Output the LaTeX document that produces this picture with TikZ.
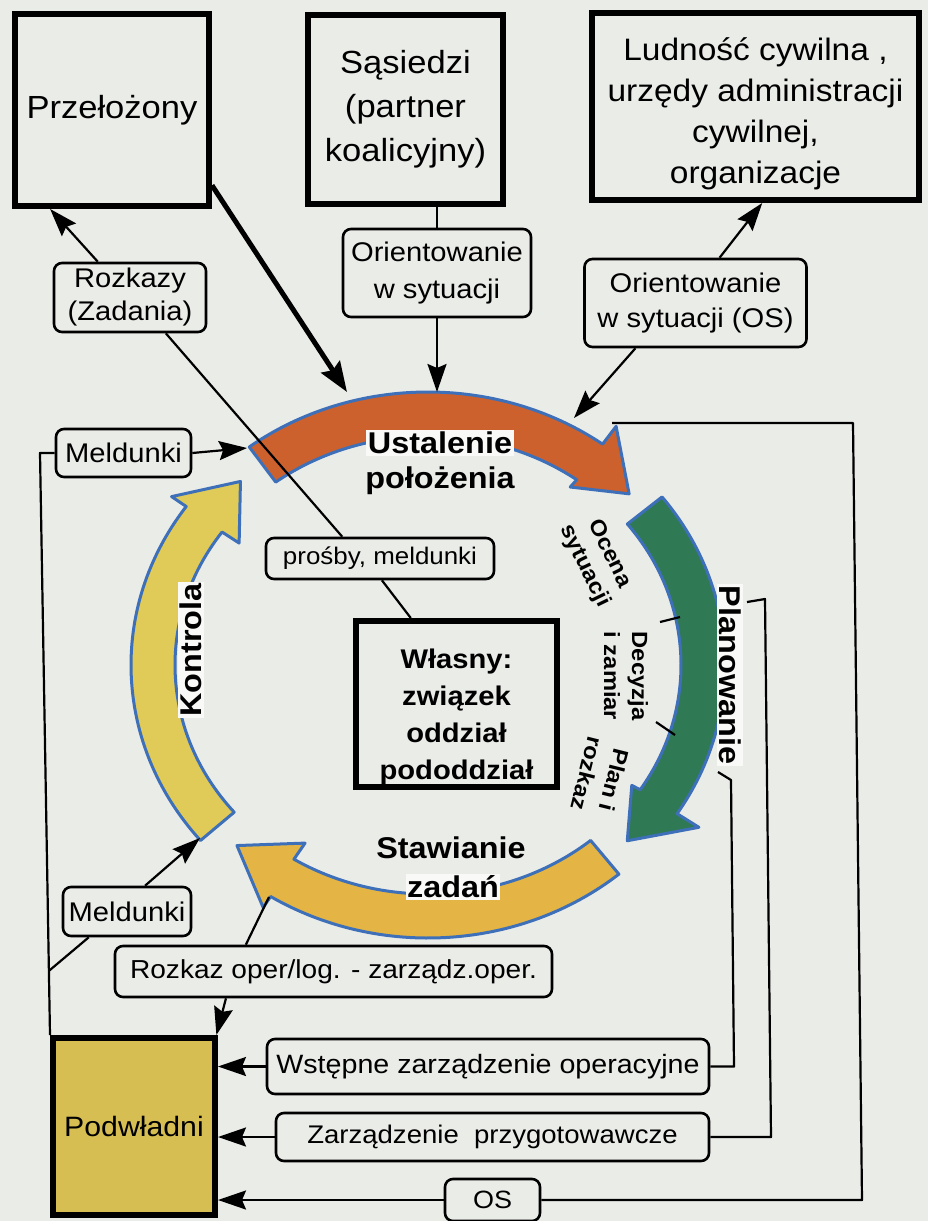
\documentclass[tikz,border=0pt]{standalone}
\usepackage{fontspec}
\setmainfont[FakeStretch=1.08]{Liberation Sans}
\usetikzlibrary{arrows.meta,calc}

\definecolor{paper}{RGB}{234,236,232}
\definecolor{patch}{RGB}{249,249,247}
\definecolor{ringblue}{RGB}{62,112,185}
\definecolor{cOrange}{RGB}{204,97,46}
\definecolor{cGreen}{RGB}{47,122,84}
\definecolor{cKontrola}{RGB}{224,203,88}
\definecolor{cStaw}{RGB}{228,181,68}
\definecolor{cPodw}{RGB}{214,190,82}

\newcommand{\fs}[2]{\fontsize{#1}{#2}\selectfont}

\begin{document}
\begin{tikzpicture}[x=1pt,y=-1pt,
  bigbox/.style={draw, line width=6pt, fill=paper, inner sep=0pt, align=center},
  tag/.style={draw, line width=2.6pt, rounded corners=8pt, fill=paper, inner sep=0pt, align=center},
  conn/.style={line width=2.2pt, line join=round},
  arr/.style={conn, -{Stealth[length=28pt,width=19pt,inset=4pt]}},
  heavyarr/.style={line width=5pt, -{Stealth[length=30pt,width=22pt,inset=4pt]}},
  ringpart/.style={draw=ringblue, line width=3pt, line join=round},
  arclab/.style={font=\bfseries\fs{30}{36}, inner sep=1.5pt},
  sublab/.style={font=\bfseries\fs{22}{28}, inner sep=0pt, align=center},
]
\useasboundingbox (0,0) rectangle (928,1221);
\fill[paper] (0,0) rectangle (928,1221);

% ---- the four-phase ring ----
\begin{scope}[shift={(428,665)}, yscale=-1]
  % Ustalenie polozenia
  \path[ringpart, fill=cOrange]
    (127:297 and 273) arc[start angle=127, end angle=54, x radius=297, y radius=273]
    -- (54:320 and 295) -- (43:275 and 251) -- (54:242 and 220) -- (54:253 and 229)
    arc[start angle=54, end angle=127, x radius=253, y radius=229] -- cycle;
  % Planowanie
  \path[ringpart, fill=cGreen]
    (38:297 and 273) arc[start angle=38, end angle=-33, x radius=297, y radius=273]
    -- (-33:323 and 298) -- (-44:277 and 253) -- (-33:243 and 221) -- (-33:253 and 229)
    arc[start angle=-33, end angle=38, x radius=253, y radius=229] -- cycle;
  % Stawianie zadan
  \path[ringpart, fill=cStaw]
    (-50:297 and 273) arc[start angle=-50, end angle=-122, x radius=297, y radius=273]
    -- (-122:311 and 286) -- (-134:275 and 251) -- (-122:232 and 210) -- (-122:253 and 229)
    arc[start angle=-122, end angle=-50, x radius=253, y radius=229] -- cycle;
  % Kontrola
  \path[ringpart, fill=cKontrola]
    (-140:297 and 273) arc[start angle=-140, end angle=-215.5, x radius=297, y radius=273]
    -- (-215.5:315 and 290) -- (-227:275 and 251) -- (-215.5:232 and 210) -- (-215.5:253 and 229)
    arc[start angle=-215.5, end angle=-140, x radius=253, y radius=229] -- cycle;
\end{scope}

% ---- phase labels ----
\node[arclab, fill=patch] (ust) at (440,443) {Ustalenie};
\node[arclab] (pol) at (440,481) {położenia};
\node[arclab] (staw) at (451,848) {Stawianie};
\node[arclab, fill=patch] (zad) at (453,887) {zadań};
\node[arclab, fill=patch, rotate=90] (kon) at (191,650) {Kontrola};
\node[arclab, fill=patch, rotate=-90] (plan) at (730,675) {Planowanie};
\node[sublab, rotate=-64] (ocena) at (597,560) {Ocena\\sytuacji};
\node[sublab, rotate=-90] (decyzja) at (626,676) {Decyzja\\i zamiar};
\node[sublab, rotate=-104] (planroz) at (601,777) {Plan i\\rozkaz};

% ---- boxes ----
\node[bigbox, minimum width=194pt, minimum height=192pt, font=\fs{32}{38}] (przel) at (112,110) {Przełożony};
\node[bigbox, minimum width=195pt, minimum height=189pt, font=\fs{32}{44}] (sas) at (405.5,109.5) {Sąsiedzi\\(partner\\koalicyjny)};
\node[bigbox, minimum width=327pt, minimum height=187pt, font=\fs{31}{41}] (lud) at (755.5,106.5)
  {\rule{0pt}{38pt}Ludność cywilna ,\\urzędy administracji\\cywilnej,\\organizacje};
\node[bigbox, minimum width=201pt, minimum height=166pt, font=\bfseries\fs{27}{37}] (wlasny) at (456.5,704)
  {\rule{0pt}{46pt}Własny:\\związek\\oddział\\pododdział};
\node[bigbox, fill=cPodw, minimum width=162pt, minimum height=177pt, font=\fs{28}{32}] (podw) at (134,1126.5) {Podwładni};

\node[tag, minimum width=152pt, minimum height=69pt, font=\fs{27}{33}] (rozk) at (130,297.5) {Rozkazy\\(Zadania)};
\node[tag, minimum width=188pt, minimum height=88pt, font=\fs{27}{37}] (ori1) at (437,273) {Orientowanie\\w sytuacji};
\node[tag, minimum width=222pt, minimum height=88pt, font=\fs{27}{35}] (ori2) at (695.5,303) {Orientowanie\\w sytuacji (OS)};
\node[tag, minimum width=135pt, minimum height=48pt, font=\fs{27}{30}] (meld1) at (123.5,453) {Meldunki};
\node[tag, minimum width=228pt, minimum height=41pt, font=\fs{24}{28}] (prosby) at (380,558.5) {prośby, meldunki};
\node[tag, minimum width=128pt, minimum height=49pt, font=\fs{27}{30}] (meld2) at (127,911.5) {Meldunki};
\node[tag, minimum width=437pt, minimum height=51pt, font=\fs{26}{30}] (rozkaz) at (333.5,971.5) {Rozkaz oper/log. - zarządz.oper.};
\node[tag, minimum width=442pt, minimum height=55pt, font=\fs{26.5}{30}] (wstep) at (488,1066.5) {Wstępne zarządzenie operacyjne};
\node[tag, minimum width=433pt, minimum height=48pt, font=\fs{25.5}{30}] (zarz) at (492.5,1137) {Zarządzenie\ \ przygotowawcze};
\node[tag, minimum width=95pt, minimum height=42pt, font=\fs{25}{30}] (os) at (492.5,1200) {OS};

% ---- points on the ring and line corners ----
\coordinate (tPrz) at (347,392);
\coordinate (tOri1) at (437,392);
\coordinate (tOri2) at (574,418);
\coordinate (tMeldA) at (247,448);
\coordinate (tMeldB) at (200,838);
\coordinate (sStaw) at (269,897);
\coordinate (sUst) at (612,423);
\coordinate (ustR) at (853,423);
\coordinate (osR) at (862,0);
\coordinate (leftTop) at (40,452);
\coordinate (plTop) at (747,602);
\coordinate (plTopR) at (765,599);
\coordinate (plTopB) at (771,0);
\coordinate (plBot) at (718,772);
\coordinate (plBotR) at (731,780);
\coordinate (plBotB) at (734,0);

% ---- connectors ----
\draw[heavyarr] (przel.-37) -- (tPrz);
\draw[arr] (rozk.132) -- (przel.-122);
\draw[conn] (rozk.-45) -- (prosby.150);
\draw[conn] (prosby.-85) -- (wlasny.118);
\draw[conn] (sas.south -| ori1.north) -- (ori1.north);
\draw[arr] (ori1.south) -- (tOri1);
\draw[arr] (ori2.62) -- (lud.-86);
\draw[arr] (ori2.-143) -- (tOri2);
\draw[arr] (meld1.east) -- (tMeldA);
\draw[conn] (podw.north west) -- (leftTop |- meld1.west) -- (meld1.west);
\draw[arr] (meld2.55) -- (tMeldB);
\draw[conn] (meld2.-146) -- ($(podw.north west)!0.11!(leftTop)$);
\draw[conn] (sStaw) -- (rozkaz.163);
\draw[arr] (rozkaz.-166) -- (podw.48);
\draw[arr] (wstep.west) -- (wstep.west -| podw.east);
\draw[arr] (zarz.west) -- (zarz.west -| podw.east);
\draw[arr] (os.west) -- (os.west -| podw.east);
\draw[conn] (plTop) -- (plTopR) -- (plTopB |- zarz.east) -- (zarz.east);
\draw[conn] (plBot) -- (plBotR) -- (plBotB |- wstep.east) -- (wstep.east);
\draw[conn] (sUst) -- (ustR) -- (osR |- os.east) -- (os.east);

% ---- separators between the planning steps ----
\draw[conn] (660,622) -- (680,617);
\draw[conn] (656,722) -- (675,735);
\end{tikzpicture}
\end{document}
